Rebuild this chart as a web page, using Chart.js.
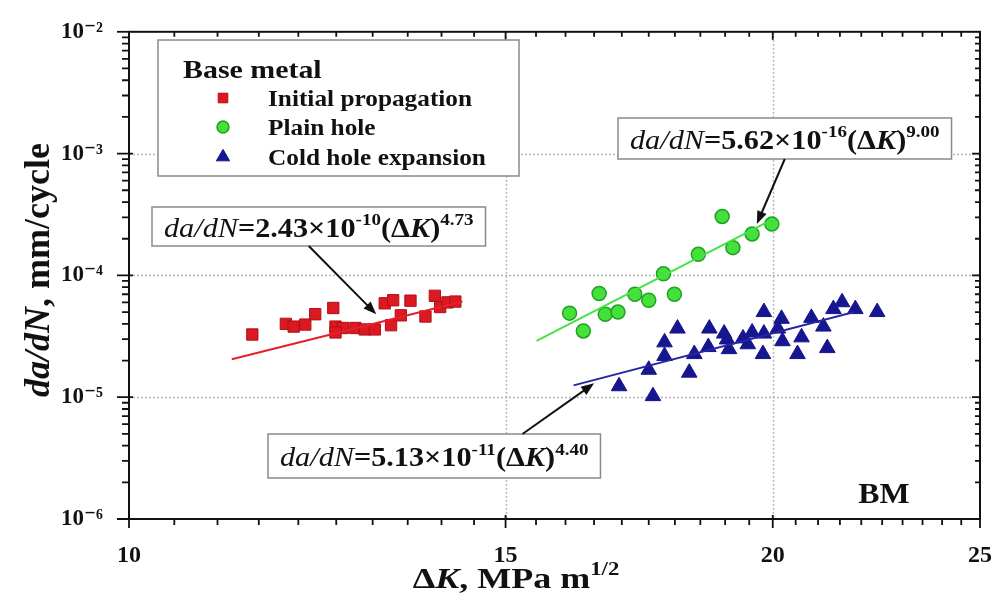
<!DOCTYPE html>
<html>
<head>
<meta charset="utf-8">
<title>da/dN vs ΔK - base metal</title>
<script src="https://cdn.jsdelivr.net/npm/chart.js@4.4.1/dist/chart.umd.min.js"></script>
<style>
  html, body { margin: 0; padding: 0; background: #fff; }
  #wrap { width: 1006px; height: 597px; }
</style>
</head>
<body>
<div id="wrap"><canvas id="fcgChart" width="1006" height="597"></canvas></div>
<script>
const serif = '"Liberation Serif", "DejaVu Serif", "Times New Roman", serif';

// tick labels
const xTickLabels = [10, 15, 20, 25];
const yTickLabels = [1e-6, 1e-5, 1e-4, 1e-3, 1e-2];

// Initial propagation (red squares)
const initialK = [11.42, 11.84, 11.94, 12.09, 12.22, 12.46, 12.49, 12.59, 12.49, 12.76, 12.89,
  13.03, 13.17, 13.29, 13.26, 13.40, 13.54, 13.76, 13.90, 13.98, 14.09, 14.21];
const initialRate = [3.27e-5, 4.0e-5, 3.8e-5, 3.95e-5, 4.8e-5, 5.4e-5, 3.8e-5, 3.7e-5, 3.4e-5, 3.7e-5, 3.6e-5,
  3.6e-5, 5.9e-5, 6.25e-5, 3.9e-5, 4.7e-5, 6.2e-5, 4.6e-5, 6.8e-5, 5.5e-5, 6.0e-5, 6.1e-5];

// Plain hole (green circles)
const plainK = [16.07, 16.31, 16.59, 16.70, 16.93, 17.24, 17.50, 17.78, 17.99, 18.46, 18.94, 19.16, 19.56, 19.98];
const plainRate = [4.9e-5, 3.5e-5, 7.1e-5, 4.8e-5, 5.0e-5, 7.0e-5, 6.25e-5, 1.03e-4, 7.0e-5, 1.49e-4,
  3.05e-4, 1.69e-4, 2.19e-4, 2.64e-4];

// Cold hole expansion (blue triangles)
const coldK = [16.95, 17.58, 17.50, 18.28, 17.80, 17.80, 18.05, 18.38, 18.66, 18.68,
  18.98, 19.04, 19.08, 19.37, 19.47, 19.56, 19.79, 19.81, 19.81, 20.11,
  20.19, 20.21, 20.54, 20.63, 20.85, 21.12, 21.21, 21.35, 21.55, 21.86, 22.38];
const coldRate = [1.23e-5, 1.02e-5, 1.68e-5, 1.59e-5, 2.18e-5, 2.82e-5, 3.66e-5, 2.26e-5, 2.58e-5, 3.66e-5,
  3.33e-5, 2.98e-5, 2.48e-5, 3.04e-5, 2.72e-5, 3.40e-5, 2.26e-5, 5.00e-5, 3.33e-5, 3.66e-5,
  4.40e-5, 2.88e-5, 2.26e-5, 3.10e-5, 4.48e-5, 3.80e-5, 2.53e-5, 5.29e-5, 6.02e-5, 5.29e-5, 5.00e-5];

// fitted lines, end points
const initialFitK = [11.17, 14.32];
const initialFitRate = [2.05e-5, 6.1e-5];
const plainFitK = [15.51, 19.85];
const plainFitRate = [2.9e-5, 2.7e-4];
const coldFitK = [16.14, 21.83];
const coldFitRate = [1.25e-5, 5.0e-5];

// where the callout arrows point (ΔK, da/dN)
const initialArrowTip = [13.05, 4.8e-5];
const plainArrowTip = [19.66, 2.64e-4];
const coldArrowTip = [16.50, 1.30e-5];

const toPoints = (xs, ys) => xs.map((x, i) => ({ x: x, y: ys[i] }));

const supMap = { '-': '\u207B', '0': '\u2070', '1': '\u00B9', '2': '\u00B2', '3': '\u00B3',
  '4': '\u2074', '5': '\u2075', '6': '\u2076', '7': '\u2077', '8': '\u2078', '9': '\u2079' };
const toSup = s => String(s).split('').map(c => supMap[c] || c).join('');

const seriesStyle = [
  { label: 'Initial propagation', pointStyle: 'rect', radius: 8, fill: '#dc1820', border: '#b01018', borderWidth: 1 },
  { label: 'Plain hole', pointStyle: 'circle', radius: 7, fill: '#44e03c', border: '#22a022', borderWidth: 1.5 },
  { label: 'Cold hole expansion', pointStyle: 'triangle', radius: 9, fill: '#16168e', border: '#16168e', borderWidth: 1 }
];

// ---- rich text helpers (italic / superscript pieces), sx = horizontal stretch ----
function partFont(p, size) {
  const s = p.sup ? Math.round(size * 0.62) : size;
  return (p.it ? 'italic ' : '') + (p.bold ? 'bold ' : '') + s + 'px ' + serif;
}
function measureParts(ctx, parts, size, sx) {
  let w = 0;
  parts.forEach(p => { ctx.font = partFont(p, size); w += ctx.measureText(p.t).width; });
  return w * (sx || 1);
}
function drawParts(ctx, parts, x, y, size, sx) {
  ctx.save();
  ctx.translate(x, y);
  ctx.scale(sx || 1, 1);
  ctx.textAlign = 'left';
  ctx.textBaseline = 'alphabetic';
  let cx = 0;
  parts.forEach(p => {
    ctx.font = partFont(p, size);
    ctx.fillText(p.t, cx, p.sup ? -size * 0.42 : 0);
    cx += ctx.measureText(p.t).width;
  });
  ctx.restore();
}
function eqParts(coef, exp, power) {
  return [
    { t: 'da/dN', it: true },
    { t: '=' + coef + '\u00D710', bold: true },
    { t: exp, sup: true, bold: true },
    { t: '(\u0394', bold: true },
    { t: 'K', it: true, bold: true },
    { t: ')', bold: true },
    { t: power, sup: true, bold: true }
  ];
}

function drawArrow(ctx, x0, y0, x1, y1) {
  const ang = Math.atan2(y1 - y0, x1 - x0);
  const head = 13, half = 5;
  ctx.save();
  ctx.strokeStyle = '#111';
  ctx.fillStyle = '#111';
  ctx.lineWidth = 2;
  ctx.beginPath();
  ctx.moveTo(x0, y0);
  ctx.lineTo(x1 - Math.cos(ang) * head * 0.8, y1 - Math.sin(ang) * head * 0.8);
  ctx.stroke();
  ctx.beginPath();
  ctx.moveTo(x1, y1);
  ctx.lineTo(x1 - Math.cos(ang) * head - Math.sin(ang) * half, y1 - Math.sin(ang) * head + Math.cos(ang) * half);
  ctx.lineTo(x1 - Math.cos(ang) * head + Math.sin(ang) * half, y1 - Math.sin(ang) * head - Math.cos(ang) * half);
  ctx.closePath();
  ctx.fill();
  ctx.restore();
}

function drawCallout(ctx, parts, left, top, height, size, sx) {
  const w = measureParts(ctx, parts, size, sx);
  ctx.save();
  ctx.fillStyle = '#fff';
  ctx.strokeStyle = '#8a8a8a';
  ctx.lineWidth = 1.5;
  ctx.fillRect(left, top, w + 24, height);
  ctx.strokeRect(left, top, w + 24, height);
  ctx.fillStyle = '#111';
  drawParts(ctx, parts, left + 12, top + height * 0.5 + size * 0.38, size, sx);
  ctx.restore();
  return { left: left, top: top, right: left + w + 24, bottom: top + height };
}

// grid, frame, minor ticks, titles, legend, callouts
const decorPlugin = {
  id: 'decor',
  beforeDatasetsDraw(chart) {
    const { ctx, chartArea: a, scales: { x, y } } = chart;
    ctx.save();
    ctx.strokeStyle = '#b4b4b4';
    ctx.lineWidth = 1.5;
    ctx.setLineDash([2, 2]);
    [15, 20].forEach(v => {
      const px = Math.round(x.getPixelForValue(v)) + 0.5;
      ctx.beginPath(); ctx.moveTo(px, a.top); ctx.lineTo(px, a.bottom); ctx.stroke();
    });
    [1e-5, 1e-4, 1e-3].forEach(v => {
      const py = Math.round(y.getPixelForValue(v)) + 0.5;
      ctx.beginPath(); ctx.moveTo(a.left, py); ctx.lineTo(a.right, py); ctx.stroke();
    });
    ctx.restore();
  },
  afterDraw(chart) {
    const { ctx, chartArea: a, scales: { x, y } } = chart;
    ctx.save();
    // frame
    ctx.strokeStyle = '#111';
    ctx.lineWidth = 2;
    ctx.strokeRect(a.left, a.top, a.right - a.left, a.bottom - a.top);

    // x ticks every 0.5
    ctx.lineWidth = 1.8;
    for (let k = 10; k <= 25.001; k += 0.5) {
      const px = x.getPixelForValue(k);
      const major = xTickLabels.includes(k);
      ctx.beginPath();
      ctx.moveTo(px, a.bottom - (major ? 4 : 0));
      ctx.lineTo(px, a.bottom + (major ? 9 : 6));
      ctx.moveTo(px, a.top);
      ctx.lineTo(px, a.top + (major ? 8 : 5));
      ctx.stroke();
    }
    // y ticks, 1..9 per decade
    for (let e = -6; e < -2; e++) {
      for (let m = 1; m <= 9; m++) {
        const py = y.getPixelForValue(m * Math.pow(10, e));
        const major = m === 1;
        ctx.beginPath();
        ctx.moveTo(a.left - (major ? 12 : 7), py);
        ctx.lineTo(a.left + (major ? 4 : 0), py);
        ctx.moveTo(a.right, py);
        ctx.lineTo(a.right - (major ? 8 : 5), py);
        ctx.stroke();
      }
    }
    const pyTop = y.getPixelForValue(1e-2);
    ctx.beginPath();
    ctx.moveTo(a.left - 12, pyTop); ctx.lineTo(a.left, pyTop);
    ctx.stroke();

    ctx.fillStyle = '#111';
    // axis titles
    const xTitle = [
      { t: '\u0394', bold: true }, { t: 'K', it: true, bold: true },
      { t: ', MPa m', bold: true }, { t: '1/2', sup: true, bold: true }
    ];
    const xw = measureParts(ctx, xTitle, 30, 1.2);
    drawParts(ctx, xTitle, 516 - xw / 2, 588, 30, 1.2);

    const yTitle = [{ t: 'da/dN', it: true, bold: true }, { t: ', mm/cycle', bold: true }];
    const yw = measureParts(ctx, yTitle, 36);
    ctx.save();
    ctx.translate(49, 270);
    ctx.rotate(-Math.PI / 2);
    drawParts(ctx, yTitle, -yw / 2, 0, 36);
    ctx.restore();

    // legend
    ctx.fillStyle = '#fff';
    ctx.strokeStyle = '#8a8a8a';
    ctx.lineWidth = 1.5;
    ctx.fillRect(158, 40, 361, 136);
    ctx.strokeRect(158, 40, 361, 136);
    ctx.fillStyle = '#111';
    drawParts(ctx, [{ t: 'Base metal', bold: true }], 183, 78, 26, 1.15);
    const rows = [98, 127, 157];
    seriesStyle.forEach((s, i) => {
      ctx.fillStyle = s.fill;
      ctx.strokeStyle = s.border;
      ctx.lineWidth = s.borderWidth;
      Chart.helpers.drawPoint(ctx, { pointStyle: s.pointStyle, radius: s.radius * 0.85, rotation: 0, borderWidth: s.borderWidth }, 223, rows[i]);
      ctx.fillStyle = '#111';
      drawParts(ctx, [{ t: s.label, bold: true }], 268, rows[i] + 8, 23, 1.1);
    });

    // callouts with arrows
    const b1 = drawCallout(ctx, eqParts('2.43', '-10', '4.73'), 152, 207, 39, 27, 1.12);
    drawArrow(ctx, b1.left + (b1.right - b1.left) * 0.47, b1.bottom,
      x.getPixelForValue(initialArrowTip[0]), y.getPixelForValue(initialArrowTip[1]));
    const b2 = drawCallout(ctx, eqParts('5.62', '-16', '9.00'), 618, 118, 41, 27, 1.12);
    drawArrow(ctx, b2.left + (b2.right - b2.left) * 0.5, b2.bottom,
      x.getPixelForValue(plainArrowTip[0]), y.getPixelForValue(plainArrowTip[1]));
    const b3 = drawCallout(ctx, eqParts('5.13', '-11', '4.40'), 268, 434, 44, 27, 1.12);
    drawArrow(ctx, b3.right - 78, b3.top,
      x.getPixelForValue(coldArrowTip[0]), y.getPixelForValue(coldArrowTip[1]));

    // specimen label
    const bm = [{ t: 'BM', bold: true }];
    const bw = measureParts(ctx, bm, 29, 1.1);
    ctx.fillStyle = '#111';
    drawParts(ctx, bm, 884 - bw / 2, 503, 29, 1.1);
    ctx.restore();
  }
};

function pointSet(i, xs, ys) {
  const s = seriesStyle[i];
  return {
    label: s.label,
    data: toPoints(xs, ys),
    showLine: false,
    pointStyle: s.pointStyle,
    pointRadius: s.radius,
    pointBackgroundColor: s.fill,
    pointBorderColor: s.border,
    pointBorderWidth: s.borderWidth,
    order: 2
  };
}
function fitSet(xs, ys, color) {
  return {
    label: 'fit',
    data: toPoints(xs, ys),
    showLine: true,
    borderColor: color,
    borderWidth: 2,
    pointRadius: 0,
    fill: false,
    order: 1
  };
}

const ctx = document.getElementById('fcgChart').getContext('2d');
new Chart(ctx, {
  type: 'scatter',
  data: {
    datasets: [
      pointSet(0, initialK, initialRate),
      pointSet(1, plainK, plainRate),
      pointSet(2, coldK, coldRate),
      fitSet(initialFitK, initialFitRate, '#e4202c'),
      fitSet(plainFitK, plainFitRate, '#46e246'),
      fitSet(coldFitK, coldFitRate, '#2626a6')
    ]
  },
  options: {
    responsive: false,
    animation: false,
    devicePixelRatio: 1,
    events: [],
    layout: { padding: { top: 20, right: 19, left: 0, bottom: 0 } },
    plugins: { legend: { display: false }, tooltip: { enabled: false } },
    scales: {
      x: {
        type: 'logarithmic',
        min: 10,
        max: 25,
        grid: { display: false },
        border: { display: false },
        afterBuildTicks: s => { s.ticks = xTickLabels.map(v => ({ value: v })); },
        afterFit: s => { s.height = 78; },
        ticks: {
          autoSkip: false,
          maxRotation: 0,
          padding: 14,
          color: '#111',
          font: { family: serif, size: 24, weight: 'bold' },
          callback: v => String(v)
        }
      },
      y: {
        type: 'logarithmic',
        min: 1e-6,
        max: 1e-2,
        grid: { display: false },
        border: { display: false },
        afterBuildTicks: s => { s.ticks = yTickLabels.map(v => ({ value: v })); },
        afterFit: s => { s.width = 129; },
        ticks: {
          autoSkip: false,
          padding: 18,
          color: '#111',
          font: { family: serif, size: 23, weight: 'bold' },
          callback: v => '10' + toSup(Math.round(Math.log10(v)))
        }
      }
    }
  },
  plugins: [decorPlugin]
});
</script>
</body>
</html>
